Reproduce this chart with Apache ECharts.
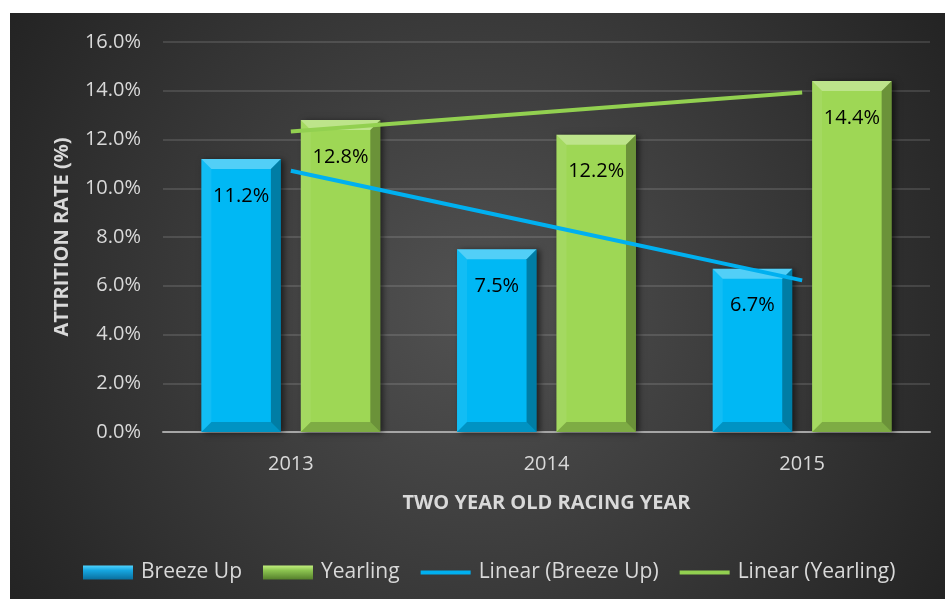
<!DOCTYPE html>
<html>
<head>
<meta charset="utf-8">
<script src="https://cdn.jsdelivr.net/npm/echarts@6/dist/echarts.min.js"></script>
<style>
  html, body { margin: 0; padding: 0; background: #ffffff; }
  #chart { position: absolute; left: 10px; top: 13px; width: 935px; height: 586px; }
</style>
</head>
<body>
<div id="chart"></div>
<script>
// Two-year-old racing attrition by sales route
const categories = ['2013', '2014', '2015'];
const breezeUp = [11.2, 7.5, 6.7];
const yearling = [12.8, 12.2, 14.4];
// Linear trendline values at each racing year
const breezeTrend = [10.72, 8.47, 6.22];
const yearlingTrend = [12.33, 13.13, 13.93];
// Value axis ticks (percent)
const yMin = 0, yMax = 16, yStep = 2;

const FONT = "'Open Sans', sans-serif";
const TEXT = '#d9d9d9';
const BLUE = '#00b8f4';
const GREEN = '#9ed755';
const BLUE_LINE = '#00b0f0';
const GREEN_LINE = '#92d050';

const BAR_CAT_GAP = 0.30;  // fraction of category band left empty
const BAR_GAP = 0.25;      // gap between the two bars, as fraction of bar width

const chart = echarts.init(document.getElementById('chart'));

function legendFill(c1, c2, c3) {
  return new echarts.graphic.LinearGradient(0, 0, 0, 1, [
    { offset: 0, color: c1 }, { offset: 0.35, color: c2 }, { offset: 1, color: c3 }
  ]);
}

// Thin horizontal stroke used as the trendline legend key
const LINE_ICON = 'path://M0,0 L52,0 L52,4 L0,4 Z';

// Bevel facets drawn over each bar, positioned from the same band layout as the bars
const bevelData = [];
breezeUp.forEach((v, i) => bevelData.push([i, v, 0]));
yearling.forEach((v, i) => bevelData.push([i, v, 1]));

function renderBevel(params, api) {
  const i = api.value(0), v = api.value(1), s = api.value(2);
  const top = api.coord([i, v]);
  const base = api.coord([i, 0]);
  const band = api.size([1, 0])[0];
  const w = band * (1 - BAR_CAT_GAP) / (2 + BAR_GAP);
  const x = top[0] - (2 + BAR_GAP) * w / 2 + s * (1 + BAR_GAP) * w;
  const y = top[1], yb = base[1];
  const b = Math.min(10, (yb - y) / 2);
  const poly = (pts, fill) => ({ type: 'polygon', shape: { points: pts }, style: { fill: fill }, silent: true });
  return {
    type: 'group',
    children: [
      poly([[x, y], [x + w, y], [x + w - b, y + b], [x + b, y + b]], 'rgba(255,255,255,0.32)'),
      poly([[x, y], [x + b, y + b], [x + b, yb - b], [x, yb]], 'rgba(255,255,255,0.07)'),
      poly([[x + w, y], [x + w, yb], [x + w - b, yb - b], [x + w - b, y + b]], 'rgba(0,0,0,0.32)'),
      poly([[x, yb], [x + w, yb], [x + w - b, yb - b], [x + b, yb - b]], 'rgba(0,0,0,0.2)')
    ]
  };
}

const barLabel = {
  show: true,
  position: 'insideTop',
  distance: 27,
  color: '#000000',
  fontSize: 20,
  fontFamily: FONT,
  formatter: p => p.value.toFixed(1) + '%'
};

const option = {
  backgroundColor: {
    type: 'radial', x: 0.5, y: 0.5, r: 0.95,
    colorStops: [{ offset: 0, color: '#525252' }, { offset: 1, color: '#232323' }]
  },
  animation: false,
  textStyle: { fontFamily: FONT },
  grid: { left: 153, right: 15, top: 29, bottom: 167 },
  legend: {
    left: 68, top: 544,
    itemWidth: 50, itemHeight: 14, itemGap: 21,
    symbolKeepAspect: true,
    textStyle: { color: TEXT, fontSize: 21, fontFamily: FONT, padding: [0, 0, 0, 3] },
    data: [
      { name: 'Breeze Up', icon: 'rect', itemStyle: { color: legendFill('#4fd3ff', '#16a6e0', '#0a6f9e') } },
      { name: 'Yearling', icon: 'rect', itemStyle: { color: legendFill('#c2f07e', '#8cc450', '#557f2c') } },
      { name: 'Linear (Breeze Up)', icon: LINE_ICON, itemStyle: { color: BLUE_LINE } },
      { name: 'Linear (Yearling)', icon: LINE_ICON, itemStyle: { color: GREEN_LINE } }
    ]
  },
  xAxis: {
    type: 'category',
    data: categories,
    axisTick: { show: false },
    axisLine: { lineStyle: { color: '#a6a6a6', width: 2 } },
    axisLabel: { color: TEXT, fontSize: 20, fontFamily: FONT, margin: 22 },
    name: 'TWO YEAR OLD RACING YEAR',
    nameLocation: 'middle',
    nameGap: 61,
    nameTextStyle: { color: TEXT, fontSize: 20, fontWeight: 'bold', fontFamily: FONT }
  },
  yAxis: {
    type: 'value',
    min: yMin, max: yMax, interval: yStep,
    axisLine: { show: false },
    axisTick: { show: false },
    axisLabel: { color: TEXT, fontSize: 20, fontFamily: FONT, margin: 22, formatter: v => v.toFixed(1) + '%' },
    splitLine: { lineStyle: { color: 'rgba(255,255,255,0.12)', width: 2 } },
    name: 'ATTRITION RATE (%)',
    nameLocation: 'middle',
    nameGap: 91,
    nameTextStyle: { color: TEXT, fontSize: 20, fontWeight: 'bold', fontFamily: FONT }
  },
  series: [
    {
      name: 'Breeze Up', type: 'bar', data: breezeUp,
      barGap: (BAR_GAP * 100) + '%', barCategoryGap: (BAR_CAT_GAP * 100) + '%',
      itemStyle: { color: BLUE, shadowColor: 'rgba(0,0,0,0.55)', shadowBlur: 6, shadowOffsetX: 3, shadowOffsetY: 1 },
      label: barLabel, z: 2
    },
    {
      name: 'Yearling', type: 'bar', data: yearling,
      barGap: (BAR_GAP * 100) + '%', barCategoryGap: (BAR_CAT_GAP * 100) + '%',
      itemStyle: { color: GREEN, shadowColor: 'rgba(0,0,0,0.55)', shadowBlur: 6, shadowOffsetX: 3, shadowOffsetY: 1 },
      label: barLabel, z: 2
    },
    {
      name: 'bevel', type: 'custom', data: bevelData, renderItem: renderBevel,
      silent: true, z: 3, tooltip: { show: false }
    },
    {
      name: 'Linear (Breeze Up)', type: 'line', data: breezeTrend,
      symbol: 'none', lineStyle: { color: BLUE_LINE, width: 4 }, itemStyle: { color: BLUE_LINE }, z: 5
    },
    {
      name: 'Linear (Yearling)', type: 'line', data: yearlingTrend,
      symbol: 'none', lineStyle: { color: GREEN_LINE, width: 4 }, itemStyle: { color: GREEN_LINE }, z: 5
    }
  ]
};

chart.setOption(option);
</script>
</body>
</html>
